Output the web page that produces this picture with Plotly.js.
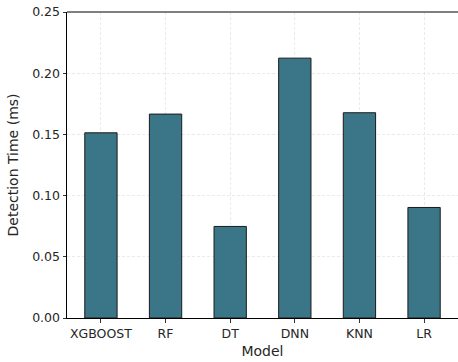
<!DOCTYPE html>
<html>
<head>
<meta charset="utf-8">
<script src="https://cdn.plot.ly/plotly-3.0.1.min.js"></script>
<style>html,body{margin:0;padding:0;background:#fff;}#chart{width:458px;height:362px;}</style>
</head>
<body>
<div id="chart"></div>
<script>
const models = ["XGBOOST", "RF", "DT", "DNN", "KNN", "LR"];
const detectionTime = [0.1513, 0.1666, 0.0748, 0.2123, 0.1677, 0.0903];
const yTicks = [0, 0.05, 0.10, 0.15, 0.20, 0.25];
const yTickLabels = ["0.00", "0.05", "0.10", "0.15", "0.20", "0.25"];

const font = "DejaVu Sans, sans-serif";
const trace = {
  type: "bar",
  x: models,
  y: detectionTime,
  width: 0.5,
  marker: {color: "#3a7687", line: {color: "#1a1a1a", width: 1}},
  hoverinfo: "x+y"
};
const layout = {
  width: 458, height: 362,
  margin: {l: 67, r: 0, t: 12, b: 44, pad: 0},
  paper_bgcolor: "#fff", plot_bgcolor: "#fff",
  showlegend: false,
  font: {family: font, size: 12.5, color: "#262626"},
  xaxis: {
    type: "category",
    range: [-0.525, 5.525],
    showline: true, linecolor: "#000", linewidth: 1,
    ticks: "outside", ticklen: 3.5, tickwidth: 0.8, tickcolor: "#000",
    showgrid: true, gridcolor: "#dcdcdc", gridwidth: 0.6, griddash: "3px,2px",
    tickfont: {family: font, size: 12.5, color: "#262626"},
    title: {text: "Model", font: {family: font, size: 14, color: "#262626"}, standoff: 6},
    zeroline: false, fixedrange: true
  },
  yaxis: {
    range: [0, 0.25],
    tickvals: yTicks, ticktext: yTickLabels,
    showline: true, linecolor: "#000", linewidth: 1,
    ticks: "outside", ticklen: 3.5, tickwidth: 0.8, tickcolor: "#000",
    showgrid: true, gridcolor: "#dcdcdc", gridwidth: 0.6, griddash: "3px,2px",
    tickfont: {family: font, size: 12.5, color: "#262626"},
    title: {text: "Detection Time (ms)", font: {family: font, size: 14, color: "#262626"}, standoff: 10},
    zeroline: false, fixedrange: true
  },
  shapes: [{type: "line", xref: "paper", yref: "paper", x0: 0, x1: 1, y0: 1, y1: 1,
            line: {color: "#000", width: 1}}]
};
Plotly.newPlot("chart", [trace], layout, {displayModeBar: false, staticPlot: true});
</script>
</body>
</html>
